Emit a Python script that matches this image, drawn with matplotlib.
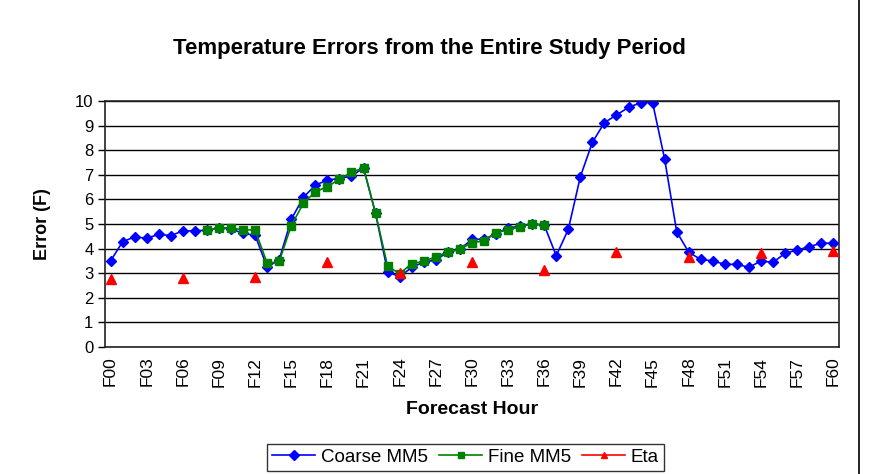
import matplotlib
matplotlib.use("Agg")
import matplotlib.pyplot as plt
from matplotlib.lines import Line2D
import numpy as np

plt.rcParams["font.family"] = ["Liberation Sans", "DejaVu Sans"]

hours = [f"F{h:02d}" for h in range(61)]

coarse = [3.50, 4.28, 4.48, 4.42, 4.58, 4.53, 4.72, 4.72, 4.75, 4.85,
          4.80, 4.62, 4.54, 3.24, 3.55, 5.19, 6.08, 6.58, 6.79, 6.85,
          6.95, 7.28, 5.43, 3.06, 2.85, 3.24, 3.45, 3.54, 3.86, 3.97,
          4.38, 4.38, 4.60, 4.85, 4.90, 5.00, 4.96, 3.71, 4.78, 6.92,
          8.32, 9.12, 9.43, 9.74, 9.93, 9.93, 7.64, 4.69, 3.85, 3.56,
          3.50, 3.36, 3.36, 3.24, 3.50, 3.44, 3.81, 3.94, 4.08, 4.22,
          4.22]

# Fine MM5 runs F08..F36 only
fine_start = 8
fine = [4.76, 4.84, 4.84, 4.76, 4.76, 3.40, 3.48, 4.93, 5.84, 6.31,
        6.52, 6.82, 7.10, 7.28, 5.43, 3.29, 2.98, 3.39, 3.48, 3.67,
        3.86, 3.97, 4.24, 4.31, 4.65, 4.76, 4.89, 5.00, 4.96]

# Eta every 6 hours
eta_hours = [0, 6, 12, 18, 24, 30, 36, 42, 48, 54, 60]
eta = [2.75, 2.80, 2.85, 3.47, 3.00, 3.47, 3.13, 3.85, 3.67, 3.81, 3.92]

x = np.arange(len(hours))
fine_y = np.full(len(hours), np.nan)
fine_y[fine_start:fine_start + len(fine)] = fine
eta_y = np.full(len(hours), np.nan)
eta_y[eta_hours] = eta

fig = plt.figure(figsize=(8.7, 4.74), dpi=100)
ax = fig.add_axes([0.1202, 0.2679, 0.8445, 0.519])

ax.plot(x, coarse, color="#0000FF", lw=1.2, marker="D", ms=5.5,
        label="Coarse MM5", zorder=3)
ax.plot(x, fine_y, color="#008000", lw=1.2, marker="s", ms=6,
        label="Fine MM5", zorder=4)
ax.plot(x, eta_y, color="#FF0000", lw=1.2, marker="^", ms=6.5,
        label="Eta", zorder=5)

ax.set_xlim(-0.5, 60.5)
ax.set_ylim(0, 10)
ax.set_yticks(range(0, 11))
ax.set_xticks(x[::3])
ax.set_xticklabels(hours[::3], rotation=90, fontsize=12.5)
ax.tick_params(axis="x", length=0, pad=7)
ax.tick_params(axis="y", length=5, width=1, labelsize=12, pad=3)
ax.grid(axis="y", color="black", lw=1)
ax.set_axisbelow(True)
for s in ax.spines.values():
    s.set_linewidth(1.2)
    s.set_color("#222222")

ax.set_ylabel("Error (F)", fontsize=13, fontweight="bold", labelpad=17)
ax.set_xlabel("Forecast Hour", fontsize=14, fontweight="bold", labelpad=10)
fig.text(0.494, 0.897, "Temperature Errors from the Entire Study Period",
         ha="center", va="center", fontsize=16, fontweight="bold")

leg = fig.legend(loc="center", bbox_to_anchor=(0.535, 0.035), ncol=3,
                 fontsize=13.5, frameon=True, fancybox=False, edgecolor="black",
                 handlelength=2.3, handletextpad=0.3, columnspacing=0.6,
                 borderpad=0.25)
leg.get_frame().set_linewidth(1.0)
for h in leg.legend_handles:
    h.set_markersize(5)

# outer frame line on the right
fig.add_artist(Line2D([0.987, 0.987], [0, 1], color="black", lw=1.2,
                      transform=fig.transFigure))

fig.savefig("out.png", dpi=100)
